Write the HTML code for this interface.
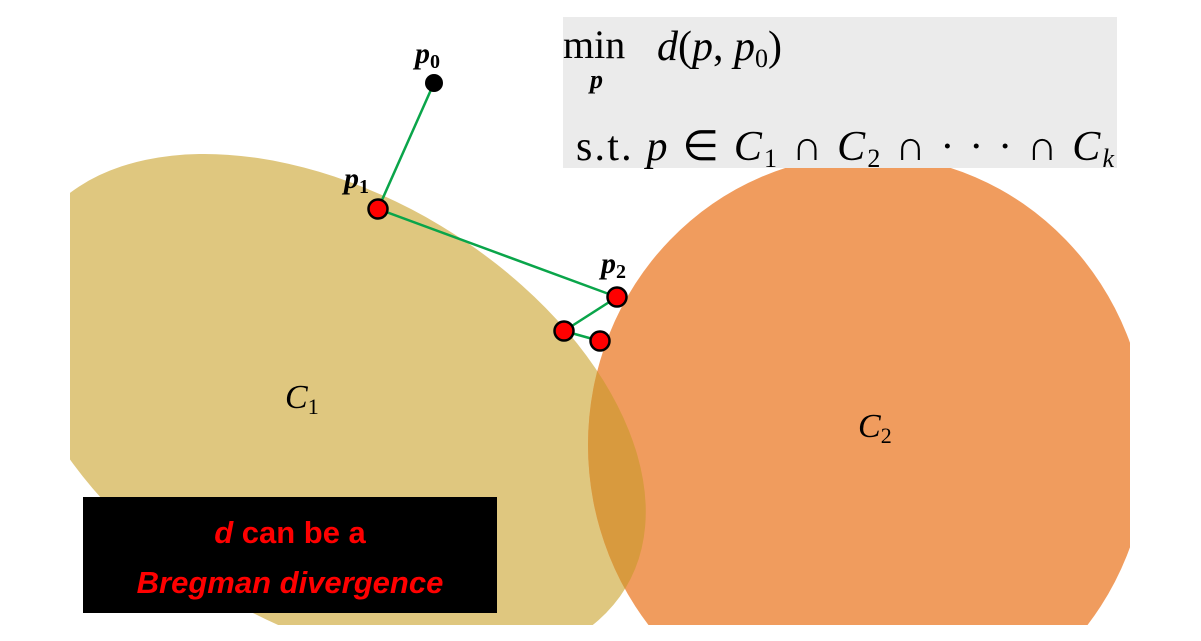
<!DOCTYPE html>
<html><head><meta charset="utf-8"><style>
html,body{margin:0;background:#fff;width:1201px;height:641px;overflow:hidden}
svg{display:block}
.m{font-family:"Liberation Serif",serif;fill:#000}
</style></head><body>
<svg width="1201" height="641" viewBox="0 0 1201 641">
<defs>
<clipPath id="area"><rect x="70" y="0" width="1060" height="625"/></clipPath>
<clipPath id="c1clip"><ellipse cx="330" cy="410" rx="345" ry="215" transform="rotate(31 330 410)"/></clipPath>
</defs>
<g clip-path="url(#area)">
<ellipse cx="330" cy="410" rx="345" ry="215" transform="rotate(31 330 410)" fill="#dfc77f"/>
<ellipse cx="868" cy="445" rx="280" ry="290" fill="#f09c5e"/>
<ellipse cx="868" cy="445" rx="280" ry="290" fill="#d89a3e" clip-path="url(#c1clip)"/>
</g>
<rect x="563" y="17" width="554" height="151" fill="#ebebeb"/>
<text class="m" x="563" y="58" font-size="40">min</text>
<text class="m" x="590" y="88" font-size="26" font-style="italic" font-weight="bold">p</text>
<text class="m" x="657" y="60" font-size="42"><tspan font-style="italic">d</tspan>(<tspan font-style="italic">p</tspan>, <tspan font-style="italic">p</tspan><tspan font-size="26" dy="7">0</tspan><tspan dy="-7">)</tspan></text>
<text class="m" x="576" y="160" font-size="42" textLength="538" lengthAdjust="spacing">s.t. <tspan font-style="italic">p</tspan> ∈ <tspan font-style="italic">C</tspan><tspan font-size="26" dy="7">1</tspan><tspan dy="-7"> ∩ </tspan><tspan font-style="italic">C</tspan><tspan font-size="26" dy="7">2</tspan><tspan dy="-7"> ∩ · · · ∩ </tspan><tspan font-style="italic">C</tspan><tspan font-size="26" dy="7" font-style="italic">k</tspan></text>
<g stroke="#0aa54a" stroke-width="2.5" fill="none">
<polyline points="434,83 378,209 617,297 564,331 600,341"/>
</g>
<circle cx="434" cy="83" r="9" fill="#000"/>
<circle cx="378" cy="209" r="9.5" fill="#f00" stroke="#000" stroke-width="2.5"/>
<circle cx="617" cy="297" r="9.5" fill="#f00" stroke="#000" stroke-width="2.5"/>
<circle cx="564" cy="331" r="9.5" fill="#f00" stroke="#000" stroke-width="2.5"/>
<circle cx="600" cy="341" r="9.5" fill="#f00" stroke="#000" stroke-width="2.5"/>
<text class="m" x="415" y="63" font-size="30" font-style="italic" font-weight="bold">p<tspan font-size="20" dy="5" font-style="normal">0</tspan></text>
<text class="m" x="344" y="188" font-size="30" font-style="italic" font-weight="bold">p<tspan font-size="20" dy="5" font-style="normal">1</tspan></text>
<text class="m" x="601" y="273" font-size="30" font-style="italic" font-weight="bold">p<tspan font-size="20" dy="5" font-style="normal">2</tspan></text>
<text class="m" x="285" y="408" font-size="34" font-style="italic">C<tspan font-size="22" dy="6" font-style="normal">1</tspan></text>
<text class="m" x="858" y="437" font-size="34" font-style="italic">C<tspan font-size="22" dy="6" font-style="normal">2</tspan></text>
<rect x="83" y="497" width="414" height="116" fill="#000"/>
<text x="290" y="543" text-anchor="middle" font-family="Liberation Sans, sans-serif" font-weight="bold" font-size="31" fill="#f00"><tspan font-style="italic">d</tspan> can be a</text>
<text x="290" y="593" text-anchor="middle" font-family="Liberation Sans, sans-serif" font-weight="bold" font-style="italic" font-size="31" fill="#f00">Bregman divergence</text>
</svg>
</body></html>
